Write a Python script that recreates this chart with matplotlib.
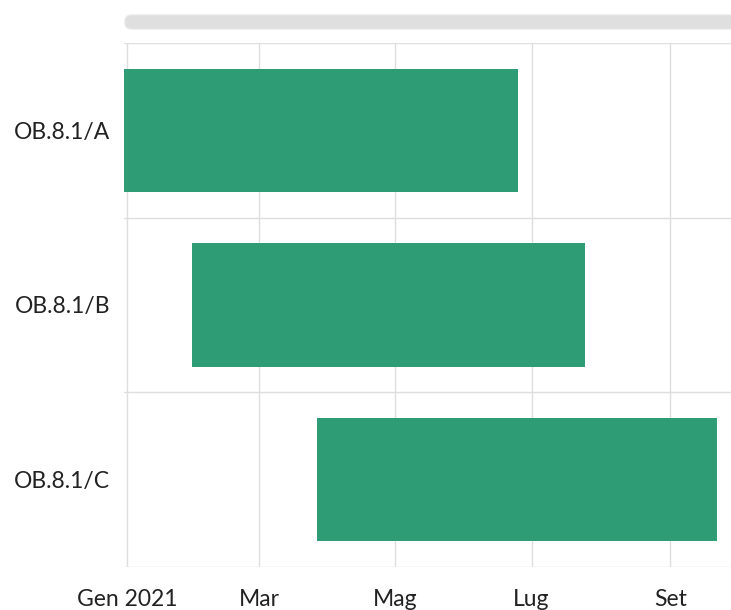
import matplotlib
matplotlib.use("Agg")
import matplotlib.pyplot as plt
import matplotlib.dates as mdates
from matplotlib.patches import FancyBboxPatch
import pandas as pd

tasks = ["OB.8.1/A", "OB.8.1/B", "OB.8.1/C"]
starts = ["2020-12-28", "2021-01-30", "2021-03-27"]
ends = ["2021-06-25", "2021-07-25", "2021-09-22"]

tick_dates = ["2021-01-01", "2021-03-01", "2021-05-01", "2021-07-01", "2021-09-01"]
tick_labels = ["Gen 2021", "Mar", "Mag", "Lug", "Set"]

bar_color = "#2e9c74"
grid_color = "#dedede"

plt.rcParams['font.family'] = ['Lato', 'DejaVu Sans']

fig = plt.figure(figsize=(7.31, 6.10), dpi=100)
ax = fig.add_axes([124 / 731, (610 - 567) / 610, (731 - 124) / 731, (567 - 43) / 610])

s = mdates.date2num(pd.to_datetime(starts))
e = mdates.date2num(pd.to_datetime(ends))
ax.barh(range(len(tasks)), e - s, left=s, height=0.705, color=bar_color, zorder=3)

jan1 = mdates.date2num(pd.Timestamp("2021-01-01"))
ax.set_xlim(jan1 - 1.34, jan1 + 270.2)
ax.set_ylim(2.5, -0.5)

ax.set_xticks(mdates.date2num(pd.to_datetime(tick_dates)))
ax.set_xticklabels(tick_labels)
ax.set_yticks(range(len(tasks)))
ax.set_yticklabels(tasks)
ax.set_yticks([-0.5, 0.5, 1.5, 2.5], minor=True)

ax.grid(True, axis="x", which="major", color=grid_color, linewidth=1, zorder=0)
ax.grid(True, axis="y", which="minor", color=grid_color, linewidth=1, zorder=0)
ax.tick_params(axis="both", which="both", length=0)
ax.tick_params(axis="x", labelsize=16.5, pad=16, labelcolor="#222222")
ax.tick_params(axis="y", labelsize=16.5, pad=10, labelcolor="#222222")
for sp in ax.spines.values():
    sp.set_visible(False)

# scrollbar on top
bar = FancyBboxPatch((125 / 731, (610 - 29) / 610), 620 / 731, 14 / 610,
                     boxstyle="round,pad=0,rounding_size=0.01",
                     transform=fig.transFigure, facecolor="#dfdfdf",
                     edgecolor="#e8e8e8", linewidth=1)
fig.patches.append(bar)

fig.savefig("out.png", dpi=100)
